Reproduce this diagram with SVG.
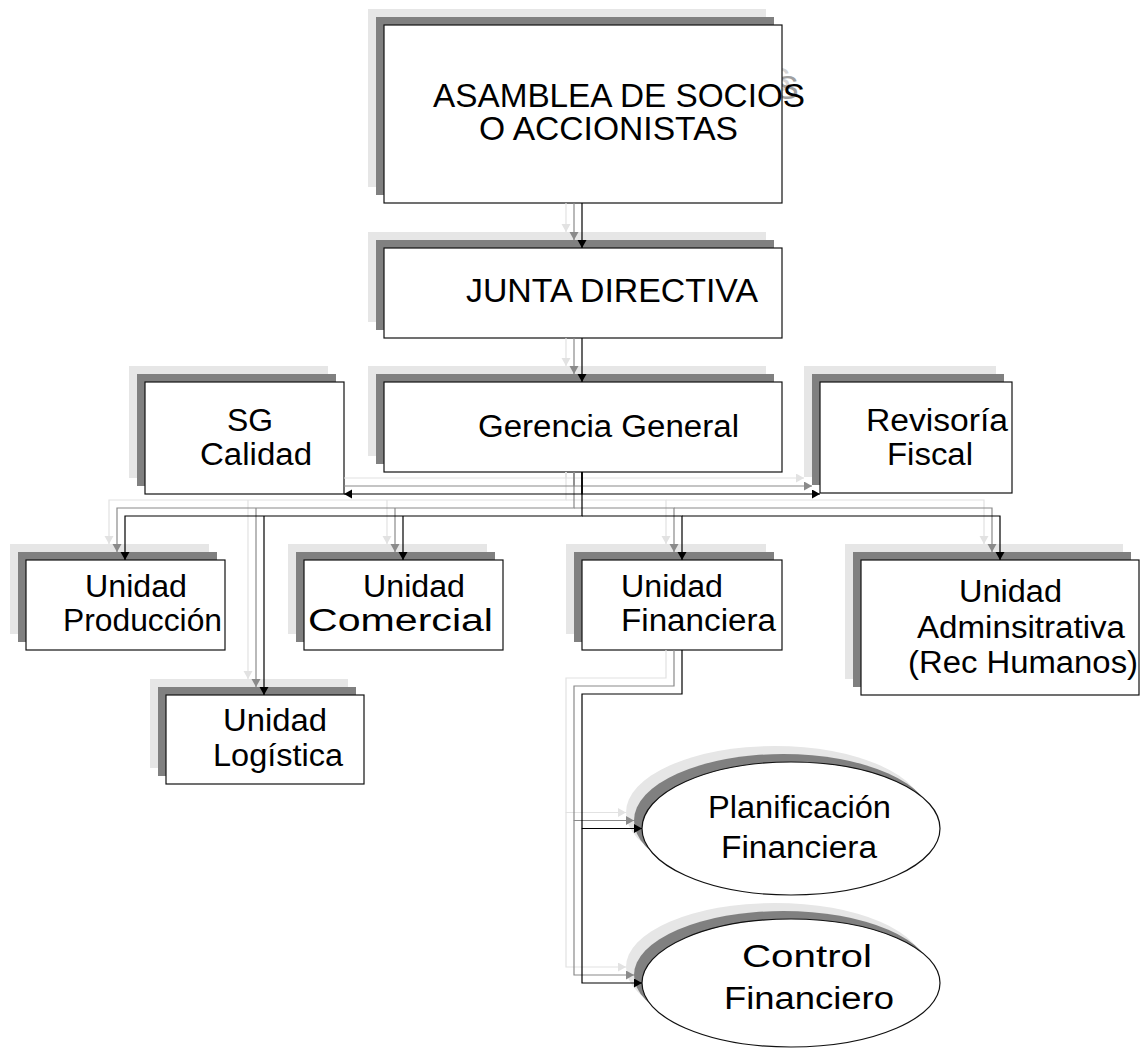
<svg xmlns="http://www.w3.org/2000/svg" width="1140" height="1048" viewBox="0 0 1140 1048">
  <style>
    .sh1 { fill: #e6e6e6; }
    .sh2 { fill: #808080; }
    .box { fill: #ffffff; stroke: #111111; stroke-width: 1.2; }
    .t { font-family: "Liberation Sans", Arial, sans-serif; font-size: 31px; fill: #000000; }
    .big { font-size: 34px; }
    .c0 { fill: none; stroke: #000000; stroke-width: 1.2; marker-end: url(#a0); }
    .c1 { fill: none; stroke: #8a8a8a; stroke-width: 1.2; marker-end: url(#a1); }
    .c2 { fill: none; stroke: #e2e2e2; stroke-width: 1.2; marker-end: url(#a2); }
    .nm { marker-end: none; }
  </style>
  <defs>
    <marker id="a0" markerUnits="userSpaceOnUse" markerWidth="10" markerHeight="10" refX="8" refY="4.5" orient="auto">
      <path d="M0,0 L8,4.5 L0,9 z" fill="#000000"/>
    </marker>
    <marker id="a1" markerUnits="userSpaceOnUse" markerWidth="10" markerHeight="10" refX="8" refY="4.5" orient="auto">
      <path d="M0,0 L8,4.5 L0,9 z" fill="#8a8a8a"/>
    </marker>
    <marker id="a2" markerUnits="userSpaceOnUse" markerWidth="10" markerHeight="10" refX="8" refY="4.5" orient="auto">
      <path d="M0,0 L8,4.5 L0,9 z" fill="#e2e2e2"/>
    </marker>
  </defs>

  <rect width="1140" height="1048" fill="#ffffff"/>

  <!-- Asamblea -->
  <g id="asamblea">
    <rect class="sh1" x="368" y="9" width="398" height="178"/>
    <text class="t big" x="768" y="91" style="fill:#d4d4d4">S</text>
    <rect class="sh2" x="376" y="17" width="398" height="178"/>
    <text class="t big" x="776" y="99" style="fill:#a0a0a0">S</text>
    <rect class="box" x="384" y="25" width="398" height="178"/>
    <text class="t big" x="433" y="107" textLength="372" lengthAdjust="spacingAndGlyphs">ASAMBLEA DE SOCIOS</text>
    <text class="t big" x="479" y="140" textLength="259" lengthAdjust="spacingAndGlyphs">O ACCIONISTAS</text>
  </g>

  <!-- Junta Directiva -->
  <g id="junta">
    <rect class="sh1" x="368" y="232" width="398" height="90"/>
    <rect class="sh2" x="376" y="240" width="398" height="90"/>
    <rect class="box" x="384" y="248" width="398" height="90"/>
    <text class="t" x="466" y="302" style="font-size:33px" textLength="292" lengthAdjust="spacingAndGlyphs">JUNTA DIRECTIVA</text>
  </g>

  <!-- Gerencia General -->
  <g id="gerencia">
    <rect class="sh1" x="368" y="366" width="398" height="90"/>
    <rect class="sh2" x="376" y="374" width="398" height="90"/>
    <rect class="box" x="384" y="382" width="398" height="90"/>
    <text class="t" x="478" y="437" textLength="261" lengthAdjust="spacingAndGlyphs">Gerencia General</text>
  </g>

  <!-- SG Calidad -->
  <g id="sg-calidad">
    <rect class="sh1" x="129" y="366" width="199" height="112"/>
    <rect class="sh2" x="137" y="374" width="199" height="112"/>
    <rect class="box" x="145" y="382" width="199" height="112"/>
    <text class="t" x="227" y="431" textLength="46" lengthAdjust="spacingAndGlyphs">SG</text>
    <text class="t" x="200" y="465" textLength="112" lengthAdjust="spacingAndGlyphs">Calidad</text>
  </g>

  <!-- Revisoria Fiscal -->
  <g id="revisoria">
    <rect class="sh1" x="804" y="366" width="192" height="111"/>
    <rect class="sh2" x="812" y="374" width="192" height="111"/>
    <rect class="box" x="820" y="382" width="192" height="111"/>
    <text class="t" x="866" y="431" textLength="142" lengthAdjust="spacingAndGlyphs">Revisoría</text>
    <text class="t" x="887" y="465" textLength="86" lengthAdjust="spacingAndGlyphs">Fiscal</text>
  </g>

  <!-- Unidad Produccion -->
  <g id="produccion">
    <rect class="sh1" x="10" y="544" width="199" height="90"/>
    <rect class="sh2" x="18" y="552" width="199" height="90"/>
    <rect class="box" x="26" y="560" width="199" height="90"/>
    <text class="t" x="85" y="597" textLength="102" lengthAdjust="spacingAndGlyphs">Unidad</text>
    <text class="t" x="63" y="631" textLength="159" lengthAdjust="spacingAndGlyphs">Producción</text>
  </g>

  <!-- Unidad Comercial -->
  <g id="comercial">
    <rect class="sh1" x="288" y="544" width="199" height="90"/>
    <rect class="sh2" x="296" y="552" width="199" height="90"/>
    <rect class="box" x="304" y="560" width="199" height="90"/>
    <text class="t" x="363" y="597" textLength="102" lengthAdjust="spacingAndGlyphs">Unidad</text>
    <text class="t" x="308" y="631" textLength="185" lengthAdjust="spacingAndGlyphs">Comercial</text>
  </g>

  <!-- Unidad Financiera -->
  <g id="financiera">
    <rect class="sh1" x="566" y="544" width="200" height="90"/>
    <rect class="sh2" x="574" y="552" width="200" height="90"/>
    <rect class="box" x="582" y="560" width="200" height="90"/>
    <text class="t" x="621" y="597" textLength="102" lengthAdjust="spacingAndGlyphs">Unidad</text>
    <text class="t" x="621" y="631" textLength="155" lengthAdjust="spacingAndGlyphs">Financiera</text>
  </g>

  <!-- Unidad Adminsitrativa -->
  <g id="administrativa">
    <rect class="sh1" x="845" y="544" width="278" height="135"/>
    <rect class="sh2" x="853" y="552" width="278" height="135"/>
    <rect class="box" x="861" y="560" width="278" height="135"/>
    <text class="t" x="959" y="602" textLength="103" lengthAdjust="spacingAndGlyphs">Unidad</text>
    <text class="t" x="917" y="638" textLength="208" lengthAdjust="spacingAndGlyphs">Adminsitrativa</text>
    <text class="t" x="908" y="673" textLength="230" lengthAdjust="spacingAndGlyphs">(Rec Humanos)</text>
  </g>

  <!-- Unidad Logistica -->
  <g id="logistica">
    <rect class="sh1" x="150" y="679" width="198" height="89"/>
    <rect class="sh2" x="158" y="687" width="198" height="89"/>
    <rect class="box" x="166" y="695" width="198" height="89"/>
    <text class="t" x="223" y="731" textLength="104" lengthAdjust="spacingAndGlyphs">Unidad</text>
    <text class="t" x="213" y="766" textLength="130" lengthAdjust="spacingAndGlyphs">Logística</text>
  </g>

  <!-- Planificacion Financiera -->
  <g id="planificacion">
    <ellipse class="sh1" cx="775" cy="812.5" rx="149" ry="66.5"/>
    <ellipse class="sh2" cx="783" cy="820.5" rx="149" ry="66.5"/>
    <ellipse class="box" cx="791" cy="828.5" rx="149" ry="66.5"/>
    <text class="t" x="708" y="818" textLength="183" lengthAdjust="spacingAndGlyphs">Planificación</text>
    <text class="t" x="721" y="858" textLength="156" lengthAdjust="spacingAndGlyphs">Financiera</text>
  </g>

  <!-- Control Financiero -->
  <g id="control">
    <ellipse class="sh1" cx="775" cy="967" rx="149" ry="64"/>
    <ellipse class="sh2" cx="783" cy="975" rx="149" ry="64"/>
    <ellipse class="box" cx="791" cy="983" rx="149" ry="64"/>
    <text class="t" x="742" y="967" textLength="130" lengthAdjust="spacingAndGlyphs">Control</text>
    <text class="t" x="724" y="1009" textLength="170" lengthAdjust="spacingAndGlyphs">Financiero</text>
  </g>

  <!-- Connectors: light copy, grey copy, then black lines on top -->
  <g id="connectors">
    <g id="conn-light">
      <path class="c2" d="M566,203 V232"/>
      <path class="c2" d="M566,338 V366"/>
      <path class="c2 nm" d="M566,472 V478 H344"/>
      <path class="c2" d="M566,472 V478 H804"/>
      <path class="c2" d="M566,472 V500 H109 V544"/>
      <path class="c2" d="M248,500 V679"/>
      <path class="c2" d="M387,500 V544"/>
      <path class="c2" d="M566,500 H666 V544"/>
      <path class="c2" d="M666,500 H984 V544"/>
      <path class="c2" d="M666,650 V678 H566 V812.5 H626"/>
      <path class="c2" d="M566,812.5 V967 H626"/>
    </g>
    <g id="conn-grey">
      <path class="c1" d="M574,203 V240"/>
      <path class="c1" d="M574,338 V374"/>
      <path class="c1 nm" d="M574,472 V486 H344"/>
      <path class="c1" d="M574,472 V486 H812"/>
      <path class="c1" d="M574,472 V508 H117 V552"/>
      <path class="c1" d="M256,508 V687"/>
      <path class="c1" d="M395,508 V552"/>
      <path class="c1" d="M574,508 H674 V552"/>
      <path class="c1" d="M674,508 H992 V552"/>
      <path class="c1" d="M674,650 V686 H574 V820.5 H634"/>
      <path class="c1" d="M574,820.5 V975 H634"/>
    </g>
    <g id="conn-main">
      <path class="c0" d="M582,203 V248"/>
      <path class="c0" d="M582,338 V382"/>
      <path class="c0" d="M582,472 V494 H344"/>
      <path class="c0" d="M582,472 V494 H820"/>
      <path class="c0" d="M582,472 V516 H125 V560"/>
      <path class="c0" d="M264,516 V695"/>
      <path class="c0" d="M403,516 V560"/>
      <path class="c0" d="M582,516 H682 V560"/>
      <path class="c0" d="M682,516 H1000 V560"/>
      <path class="c0" d="M682,650 V694 H582 V828.5 H642"/>
      <path class="c0" d="M582,828.5 V983 H642"/>
    </g>
  </g>
</svg>
